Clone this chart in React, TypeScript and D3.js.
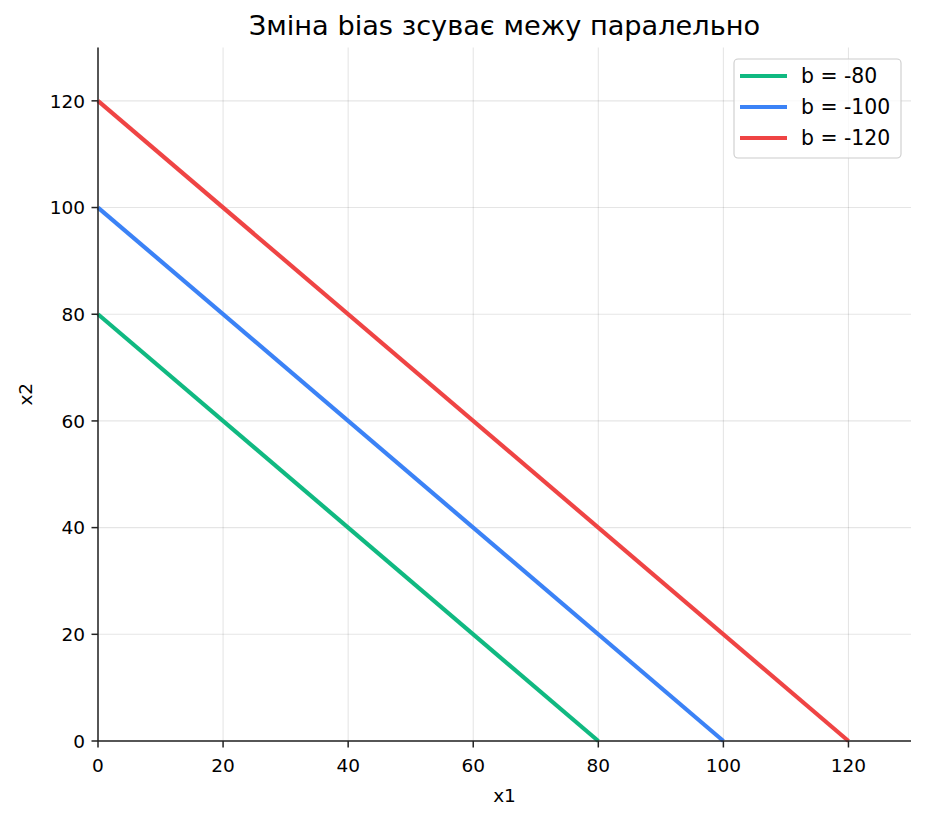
import React from 'react';
import * as d3 from 'd3';

const biases = [-80, -100, -120];
const colors = ['#10b981', '#3b82f6', '#ef4444'];
const labels = ['b = -80', 'b = -100', 'b = -120'];
const xTicks = [0, 20, 40, 60, 80, 100, 120];
const yTicks = [0, 20, 40, 60, 80, 100, 120];

const W = 926;
const H = 821;
const m = { left: 98, right: 15, top: 47.5, bottom: 80 };
const font = 'DejaVu Sans, sans-serif';

function App() {
  const x = d3.scaleLinear().domain([0, 130]).range([m.left, W - m.right]);
  const y = d3.scaleLinear().domain([0, 130]).range([H - m.bottom, m.top]);
  const line = d3.line<[number, number]>().x(d => x(d[0])).y(d => y(d[1]));

  return (
    <svg width={W} height={H} style={{ display: 'block', margin: -8 }}>
      <rect width={W} height={H} fill="white" />
      {/* grid */}
      {xTicks.map(t => (
        <line key={'gx' + t} x1={x(t)} x2={x(t)} y1={y(0)} y2={y(130)} stroke="#000" strokeOpacity={0.1} strokeWidth={1.1} />
      ))}
      {yTicks.map(t => (
        <line key={'gy' + t} x1={x(0)} x2={x(130)} y1={y(t)} y2={y(t)} stroke="#000" strokeOpacity={0.1} strokeWidth={1.1} />
      ))}
      {/* lines: x1 + x2 + b = 0 */}
      {biases.map((b, i) => (
        <path key={b} d={line([[0, -b], [-b, 0]]) || ''} fill="none" stroke={colors[i]} strokeWidth={4.2} />
      ))}
      {/* spines */}
      <line x1={x(0)} x2={x(0)} y1={y(0)} y2={y(130)} stroke="#222" strokeWidth={1.5} />
      <line x1={x(0)} x2={x(130)} y1={y(0)} y2={y(0)} stroke="#222" strokeWidth={1.5} />
      {xTicks.map(t => (
        <g key={'tx' + t}>
          <line x1={x(t)} x2={x(t)} y1={y(0)} y2={y(0) + 6.5} stroke="#222" strokeWidth={1.5} />
          <text x={x(t)} y={y(0) + 31} textAnchor="middle" fontFamily={font} fontSize={18.5} fill="#000">{t}</text>
        </g>
      ))}
      {yTicks.map(t => (
        <g key={'ty' + t}>
          <line x1={x(0) - 6.5} x2={x(0)} y1={y(t)} y2={y(t)} stroke="#222" strokeWidth={1.5} />
          <text x={x(0) - 13} y={y(t) + 6.7} textAnchor="end" fontFamily={font} fontSize={18.5} fill="#000">{t}</text>
        </g>
      ))}
      <text x={(x(0) + x(130)) / 2} y={801.5} textAnchor="middle" fontFamily={font} fontSize={18.5}>x1</text>
      <text transform={`translate(32,${(y(0) + y(130)) / 2}) rotate(-90)`} textAnchor="middle" fontFamily={font} fontSize={18.5}>x2</text>
      <text x={(x(0) + x(130)) / 2} y={35} textAnchor="middle" fontFamily={font} fontSize={27.2}>Зміна bias зсуває межу паралельно</text>
      {/* legend */}
      <rect x={734} y={59} width={167} height={99} rx={4} fill="white" fillOpacity={0.8} stroke="#ccc" strokeWidth={1.1} />
      {labels.map((l, i) => (
        <g key={l} transform={`translate(0,${76 + i * 31})`}>
          <line x1={740} x2={787} y1={0} y2={0} stroke={colors[i]} strokeWidth={4.2} />
          <text x={801} y={7.3} fontFamily={font} fontSize={20.4}>{l}</text>
        </g>
      ))}
    </svg>
  );
}

export default App;
